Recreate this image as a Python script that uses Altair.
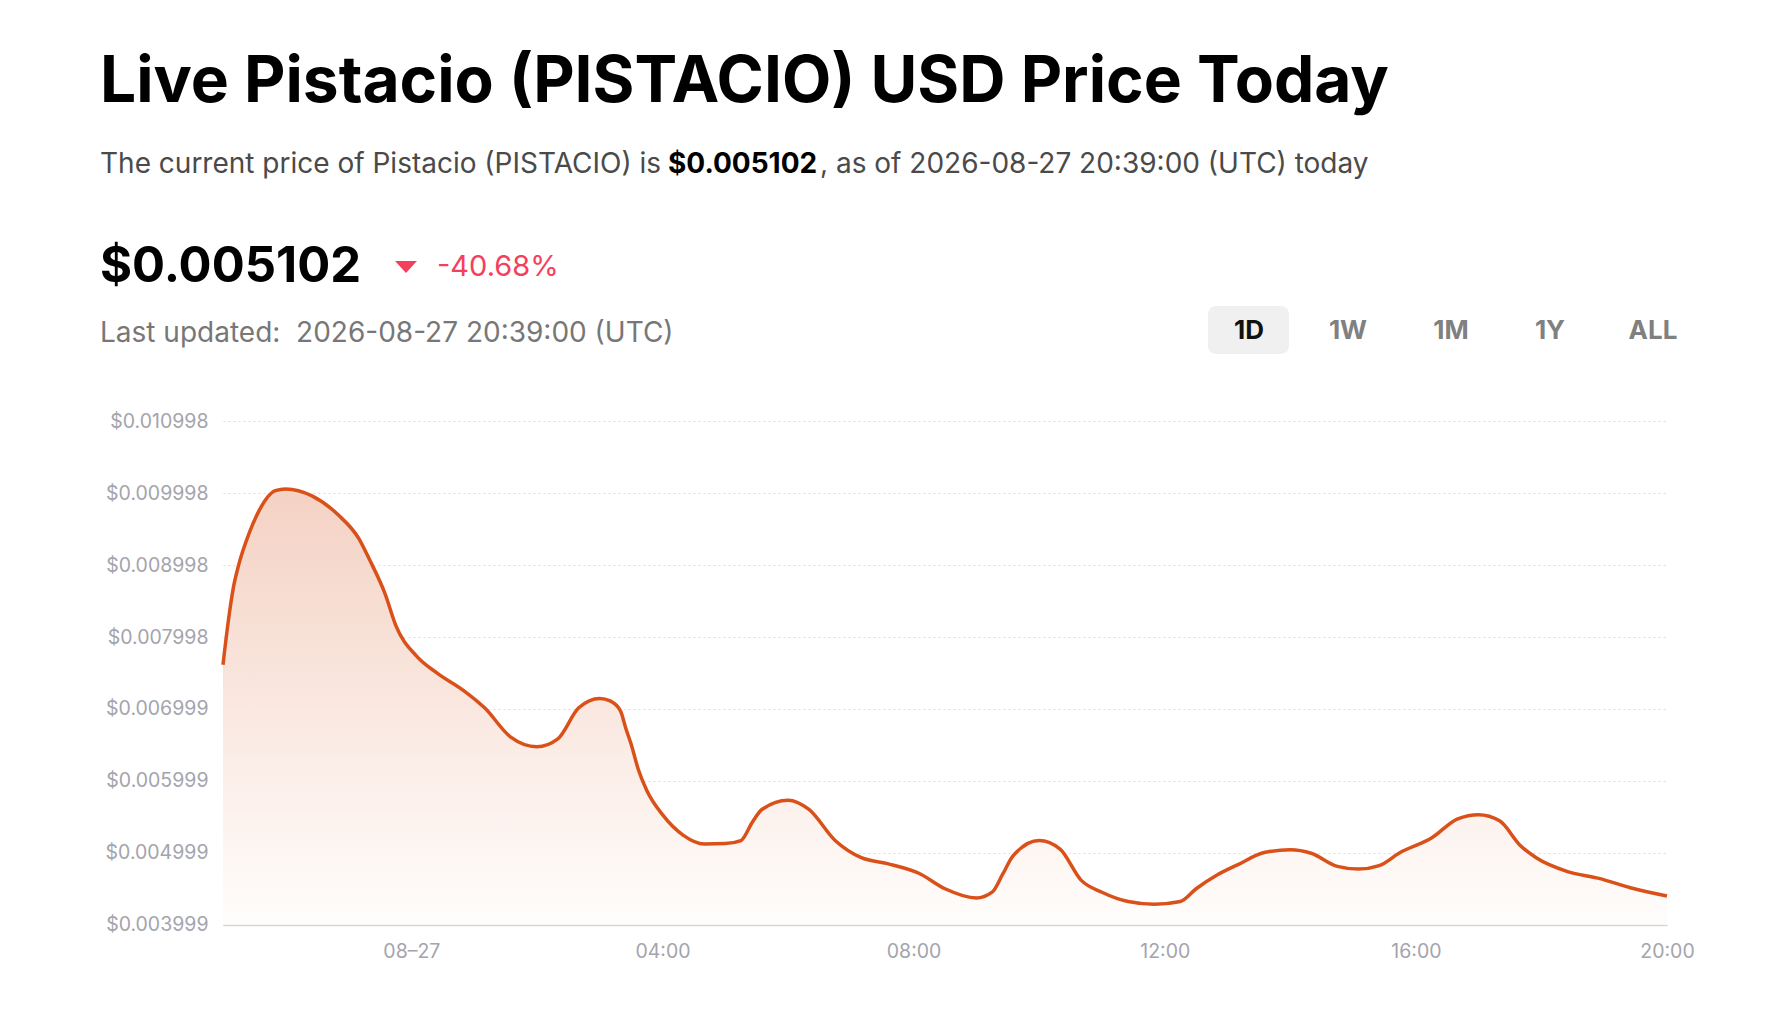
import altair as alt
import pandas as pd

# price series (UTC)
times = [
    "2026-08-26T21:00:00Z", "2026-08-26T21:05:00Z", "2026-08-26T21:10:00Z", "2026-08-26T21:15:00Z",
    "2026-08-26T21:25:00Z", "2026-08-26T21:35:00Z",
    "2026-08-26T21:50:00Z", "2026-08-26T22:00:00Z", "2026-08-26T22:25:00Z", "2026-08-26T22:50:00Z",
    "2026-08-26T23:10:00Z", "2026-08-26T23:20:00Z", "2026-08-26T23:35:00Z", "2026-08-26T23:45:00Z",
    "2026-08-27T00:05:00Z", "2026-08-27T00:25:00Z", "2026-08-27T00:50:00Z", "2026-08-27T01:10:00Z",
    "2026-08-27T01:35:00Z", "2026-08-27T02:00:00Z", "2026-08-27T02:20:00Z", "2026-08-27T02:40:00Z",
    "2026-08-27T03:00:00Z", "2026-08-27T03:10:00Z", "2026-08-27T03:20:00Z", "2026-08-27T03:25:00Z",
    "2026-08-27T03:30:00Z", "2026-08-27T03:37:00Z", "2026-08-27T03:45:00Z",
    "2026-08-27T04:00:00Z", "2026-08-27T04:20:00Z", "2026-08-27T04:40:00Z", "2026-08-27T05:00:00Z",
    "2026-08-27T05:15:00Z", "2026-08-27T05:26:00Z", "2026-08-27T05:35:00Z", "2026-08-27T06:00:00Z",
    "2026-08-27T06:20:00Z", "2026-08-27T06:45:00Z", "2026-08-27T07:10:00Z", "2026-08-27T07:35:00Z",
    "2026-08-27T08:05:00Z", "2026-08-27T08:30:00Z", "2026-08-27T09:00:00Z", "2026-08-27T09:15:00Z",
    "2026-08-27T09:25:00Z", "2026-08-27T09:35:00Z",
    "2026-08-27T10:00:00Z", "2026-08-27T10:20:00Z", "2026-08-27T10:40:00Z", "2026-08-27T11:00:00Z",
    "2026-08-27T11:25:00Z", "2026-08-27T11:50:00Z", "2026-08-27T12:15:00Z", "2026-08-27T12:30:00Z",
    "2026-08-27T12:50:00Z", "2026-08-27T13:10:00Z", "2026-08-27T13:35:00Z", "2026-08-27T14:00:00Z",
    "2026-08-27T14:20:00Z", "2026-08-27T14:45:00Z", "2026-08-27T15:05:00Z", "2026-08-27T15:25:00Z",
    "2026-08-27T15:45:00Z", "2026-08-27T16:15:00Z", "2026-08-27T16:40:00Z", "2026-08-27T17:00:00Z",
    "2026-08-27T17:20:00Z", "2026-08-27T17:40:00Z", "2026-08-27T17:55:00Z", "2026-08-27T18:25:00Z",
    "2026-08-27T18:55:00Z", "2026-08-27T19:25:00Z", "2026-08-27T20:00:00Z",
]
prices = [
    0.007613, 0.008212, 0.008691, 0.009000,
    0.009440, 0.009768,
    0.010031, 0.010055, 0.009959, 0.009696,
    0.009361, 0.009074, 0.008595, 0.008164,
    0.007733, 0.007494, 0.007255, 0.007015,
    0.006608, 0.006474, 0.006584, 0.007015,
    0.007144, 0.007111, 0.006967, 0.006728,
    0.006513, 0.006154, 0.005866,
    0.005531, 0.005244, 0.005124, 0.005130,
    0.005172, 0.005430, 0.005603, 0.005732,
    0.005603, 0.005172, 0.004933, 0.004851,
    0.004717, 0.004502, 0.004373, 0.004454,
    0.004700, 0.004957,
    0.005172, 0.005052, 0.004622, 0.004454,
    0.004325, 0.004287, 0.004325, 0.004502,
    0.004693, 0.004837, 0.005005, 0.005043,
    0.004995, 0.004813, 0.004775, 0.004823,
    0.005005, 0.005206, 0.005474, 0.005531,
    0.005445, 0.005100, 0.004933, 0.004741,
    0.004646, 0.004516, 0.004401,
]
y_ticks = [0.003999, 0.004999, 0.005999, 0.006999, 0.007998, 0.008998, 0.009998, 0.010998]
x_tick_hours = [0, 4, 8, 12, 16, 20]

title = "Live Pistacio (PISTACIO) USD Price Today"
sub_parts = ["The current price of Pistacio (PISTACIO) is ", "$0.005102",
             ", as of 2026-08-27 20:39:00 (UTC) today"]
price_text = "$0.005102"
change_text = "-40.68%"
updated_text = "Last updated:\u00a0 2026-08-27 20:39:00 (UTC)"
ranges = ["1D", "1W", "1M", "1Y", "ALL"]

FONT = "Inter"
W, H = 1444, 504
Y_MIN, Y_MAX = 0.0039986, 0.0109984
LINE = "#da5019"

df = pd.DataFrame({"time": times, "price": prices})

x_enc = alt.X(
    "time:T",
    scale=alt.Scale(
        type="utc",
        domain=[alt.DateTime(year=2026, month=8, date=26, hours=21, utc=True),
                alt.DateTime(year=2026, month=8, date=27, hours=20, utc=True)],
        nice=False,
    ),
    axis=alt.Axis(
        values=[alt.DateTime(year=2026, month=8, date=27, hours=h, utc=True) for h in x_tick_hours],
        labelExpr="utcFormat(datum.value, '%H') == '00' ? utcFormat(datum.value, '%m–%d') : utcFormat(datum.value, '%H:%M')",
        title=None, grid=False, ticks=False,
        domainColor="#d6d6db", domainWidth=1.5,
        labelColor="#a4a4ac", labelFont=FONT, labelFontSize=19.5,
        labelPadding=17.5, labelOverlap=False, labelBound=False, labelFlush=False,
        zindex=1,
    ),
)
y_enc = alt.Y(
    "price:Q",
    scale=alt.Scale(domain=[Y_MIN, Y_MAX], zero=False, nice=False),
    axis=alt.Axis(
        values=y_ticks, format="$.6f", title=None, domain=False, ticks=False,
        grid=True, gridColor="#dcdce0", gridDash=[2, 3], gridWidth=1.2,
        labelColor="#a4a4ac", labelFont=FONT, labelFontSize=19.5, labelPadding=15,
    ),
)

area = alt.Chart(df).mark_area(
    interpolate="monotone",
    color=alt.Gradient(
        gradient="linear",
        stops=[alt.GradientStop(color="#f4d2c4", offset=0),
               alt.GradientStop(color="#fffdfc", offset=1)],
        x1=1, x2=1, y1=0, y2=1,
    ),
).encode(x=x_enc, y=y_enc, y2=alt.datum(Y_MIN))

line = alt.Chart(df).mark_line(
    interpolate="monotone", color=LINE, strokeWidth=3.5
).encode(x="time:T", y="price:Q")


def label(text, x, y, size, color, weight="normal", align="left"):
    return alt.Chart(pd.DataFrame({"t": [text]})).mark_text(
        font=FONT, fontSize=size, fontWeight=weight, color=color,
        align=align, baseline="alphabetic",
    ).encode(x=alt.value(x), y=alt.value(y), text="t:N")


# header, positions relative to the plot's top-left corner
texts = [
    label(title, -123, -319, 64, "#000000", "bold"),
    label(sub_parts[0], -123, -248, 28, "#4a4a4a"),
    label(sub_parts[1], 445, -248, 28, "#000000", "bold"),
    label(sub_parts[2], 597, -248, 28, "#4a4a4a"),
    label(price_text, -123, -139, 49, "#000000", "bold"),
    label(change_text, 214, -145, 29, "#f4405c"),
    label(updated_text, -123, -79, 28, "#777777"),
]

arrow = alt.Chart(pd.DataFrame({"t": ["down"]})).mark_point(
    shape="M -1 -0.55 L 1 -0.55 L 0 0.55 Z", filled=True, size=480,
    color="#f4405c", opacity=1, strokeWidth=0,
).encode(x=alt.value(183), y=alt.value(-154))

active_box = alt.Chart(pd.DataFrame({"t": ["1D"]})).mark_rect(
    color="#f0f0f0", cornerRadius=8
).encode(x=alt.value(985), x2=alt.value(1066), y=alt.value(-115), y2=alt.value(-67))

btn_x = [1026, 1125, 1228, 1327, 1430]
buttons = [
    label(r, bx, -82, 26, "#111111" if i == 0 else "#808080", "bold", "center")
    for i, (r, bx) in enumerate(zip(ranges, btn_x))
]

chart = alt.layer(area, line, active_box, arrow, *texts, *buttons).properties(
    width=W, height=H,
    padding={"left": 215, "top": 413, "right": 100, "bottom": 80},
    autosize=alt.AutoSizeParams(type="none"),
    background="white",
).configure_view(stroke=None)

chart.save("out.html", embed_options={"renderer": "svg", "actions": False})
